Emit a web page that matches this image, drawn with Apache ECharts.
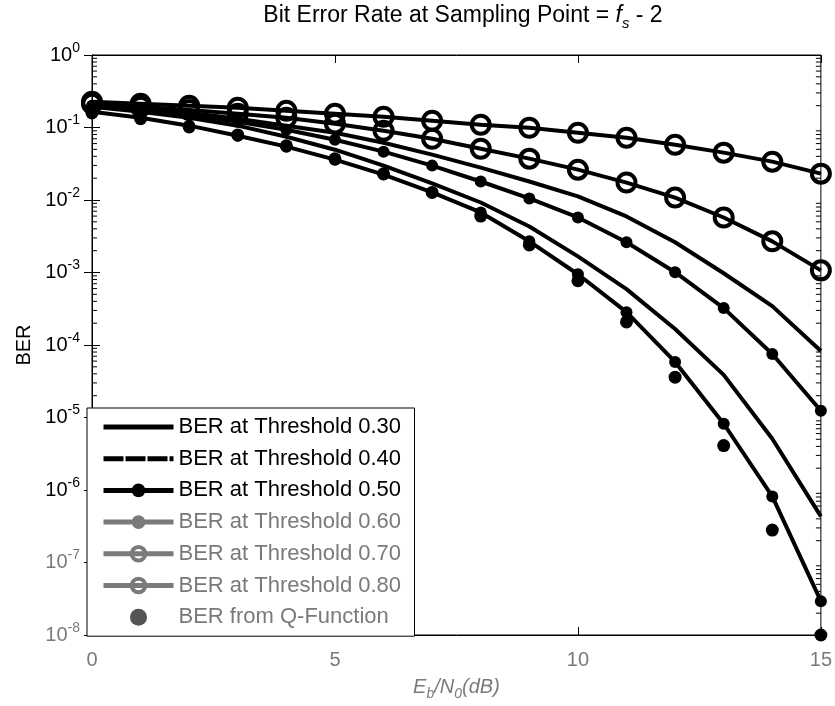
<!DOCTYPE html>
<html>
<head>
<meta charset="utf-8">
<script src="https://cdn.jsdelivr.net/npm/echarts@6/dist/echarts.min.js"></script>
<style>
  html, body { margin: 0; padding: 0; background: #fff; }
  #chart { width: 835px; height: 706px; }
</style>
</head>
<body>
<div id="chart"></div>
<script>
// Eb/N0 in dB
const ebn0 = [0, 1, 2, 3, 4, 5, 6, 7, 8, 9, 10, 11, 12, 13, 14, 15];

// Simulated bit error rate for each decision threshold
const berTh030 = [0.205, 0.187, 0.160, 0.132, 0.106, 0.0847, 0.0617, 0.0422, 0.0280, 0.0180, 0.0112, 0.00593, 0.00261, 0.000977, 0.000344, 0.0000828];
const berTh040 = [0.193, 0.165, 0.136, 0.106, 0.0746, 0.0494, 0.0298, 0.0169, 0.00924, 0.00432, 0.00167, 0.000589, 0.000166, 0.0000387, 0.0000051, 4.32e-7];
const berTh050 = [0.165, 0.136, 0.106, 0.0770, 0.0544, 0.0360, 0.0224, 0.0127, 0.00673, 0.00269, 0.000946, 0.000284, 0.0000584, 0.0000082, 8.15e-7, 2.93e-8];
const berTh060 = [0.199, 0.175, 0.150, 0.120, 0.0931, 0.0679, 0.0464, 0.0298, 0.0180, 0.0105, 0.00574, 0.00261, 0.00101, 0.000323, 0.0000752, 0.0000124];
const berTh070 = [0.212, 0.193, 0.175, 0.155, 0.136, 0.113, 0.0902, 0.0700, 0.0510, 0.0372, 0.0262, 0.0174, 0.0108, 0.00574, 0.00269, 0.00107];
const berTh080 = [0.226, 0.212, 0.199, 0.187, 0.170, 0.155, 0.141, 0.124, 0.109, 0.0993, 0.0847, 0.0723, 0.0579, 0.0450, 0.0338, 0.0231];

// Theoretical BER from the Q-function
const berQ = [0.159, 0.132, 0.102, 0.079, 0.056, 0.037, 0.023, 0.0127, 0.0060, 0.0024, 0.00077, 0.000208, 0.000036, 0.0000041, 2.8e-7, 1.0e-8];

// Legend labels
const seriesNames = [
  'BER at Threshold 0.30',
  'BER at Threshold 0.40',
  'BER at Threshold 0.50',
  'BER at Threshold 0.60',
  'BER at Threshold 0.70',
  'BER at Threshold 0.80',
  'BER from Q-Function'
];

// Axis ranges
const xTicks = [0, 5, 10, 15];
const yMin = 1e-8;
const yMax = 1;

const FONT = '"Liberation Sans", Arial, Helvetica, sans-serif';
const GREY = '#7a7a7a';
const CLEAR = 'rgba(0,0,0,0)';

function pairs(ys) {
  return ebn0.map((x, i) => [x, ys[i]]);
}

// Minor tick positions (2..9 x 10^n) for the log axis
const minorTicks = [];
for (let e = Math.log10(yMin); e < Math.log10(yMax); e++) {
  for (let k = 2; k <= 9; k++) minorTicks.push([0, k * Math.pow(10, e)]);
}

const plainLine = (name, ys) => ({
  type: 'line', name, data: pairs(ys),
  symbol: 'none', clip: false,
  lineStyle: { color: '#000', width: 4 },
  itemStyle: { color: '#000' },
  emphasis: { disabled: true }, z: 3
});
const dotLine = (name, ys) => ({
  type: 'line', name, data: pairs(ys),
  symbol: 'circle', symbolSize: 12, showAllSymbol: true, clip: false,
  lineStyle: { color: '#000', width: 4 },
  itemStyle: { color: '#000' },
  emphasis: { disabled: true }, z: 4
});
const ringLine = (name, ys) => ({
  type: 'line', name, data: pairs(ys),
  symbol: 'circle', symbolSize: 18, showAllSymbol: true, clip: false,
  lineStyle: { color: '#000', width: 4 },
  itemStyle: { color: CLEAR, borderColor: '#000', borderWidth: 4 },
  emphasis: { disabled: true }, z: 4
});

const option = {
  animation: false,
  backgroundColor: '#fff',
  textStyle: { fontFamily: FONT },
  title: {
    text: 'Bit Error Rate at Sampling Point = {i|f}{sub|s} - 2',
    left: 458, top: -4, textAlign: 'center',
    textStyle: {
      fontFamily: FONT, fontSize: 23, fontWeight: 'normal', color: '#000', lineHeight: 30,
      rich: {
        i: { fontFamily: FONT, fontSize: 23, fontStyle: 'italic', color: '#000', lineHeight: 30 },
        sub: { fontFamily: FONT, fontSize: 15, fontStyle: 'italic', color: '#000', lineHeight: 16, verticalAlign: 'bottom' }
      }
    }
  },
  grid: { left: 92, top: 55, right: 13, bottom: 69, show: true, borderColor: '#000', borderWidth: 1, backgroundColor: '#fff' },
  legend: {
    orient: 'vertical', left: 87, top: 408,
    backgroundColor: '#fff', borderColor: '#000', borderWidth: 1,
    padding: [7, 8, 7, 14],
    itemWidth: 70, itemHeight: 17, itemGap: 7.7,
    selectedMode: false,
    textStyle: { fontFamily: FONT, fontSize: 22, color: '#000', lineHeight: 24, width: 228 },
    data: [
      { name: seriesNames[0], itemStyle: { color: CLEAR, borderWidth: 0 }, lineStyle: { width: 5 } },
      { name: seriesNames[1], itemStyle: { color: CLEAR, borderWidth: 0 }, lineStyle: { width: 5, type: [20, 2] } },
      { name: seriesNames[2], lineStyle: { width: 5 } },
      { name: seriesNames[3], itemStyle: { color: GREY }, lineStyle: { color: GREY, width: 5 }, textStyle: { color: GREY } },
      { name: seriesNames[4], itemStyle: { color: CLEAR, borderColor: GREY, borderWidth: 4 }, lineStyle: { color: GREY, width: 5 }, textStyle: { color: GREY } },
      { name: seriesNames[5], itemStyle: { color: CLEAR, borderColor: GREY, borderWidth: 4 }, lineStyle: { color: GREY, width: 5 }, textStyle: { color: GREY } },
      { name: seriesNames[6], itemStyle: { color: '#555' }, textStyle: { color: GREY } }
    ]
  },
  xAxis: [
    {
      type: 'value', min: 0, max: 15, interval: 5,
      name: '{i|E}{sub|b}{i|/N}{sub|0}{i|(dB)}',
      nameLocation: 'middle', nameGap: 38,
      nameTextStyle: {
        rich: {
          i: { fontFamily: FONT, fontSize: 20, fontStyle: 'italic', color: GREY, lineHeight: 28 },
          sub: { fontFamily: FONT, fontSize: 14, fontStyle: 'italic', color: GREY, lineHeight: 14, verticalAlign: 'bottom' }
        }
      },
      axisLine: { show: true, lineStyle: { color: '#000', width: 1 } },
      axisTick: { show: true, inside: true, length: 8, lineStyle: { color: '#000' } },
      axisLabel: {
        fontFamily: FONT, fontSize: 20, margin: 15,
        color: (v) => (v === 15 ? '#000' : GREY),
        formatter: (v) => String(v)
      },
      splitLine: { show: false }
    },
    {
      type: 'value', min: 0, max: 15, interval: 5, position: 'top',
      axisLine: { show: true, lineStyle: { color: '#000' } },
      axisTick: { show: true, inside: true, length: 8, lineStyle: { color: '#000' } },
      axisLabel: { show: false },
      splitLine: { show: false }
    }
  ],
  yAxis: [
    {
      type: 'log', logBase: 10, min: yMin, max: yMax, splitNumber: 8,
      name: 'BER', nameLocation: 'middle', nameGap: 50, nameRotate: 90,
      nameTextStyle: { fontFamily: FONT, fontSize: 20, color: '#000' },
      axisLine: { show: true, lineStyle: { color: '#000' } },
      axisTick: { show: true, inside: true, length: 8, lineStyle: { color: '#000' } },
      axisLabel: {
        margin: 12,
        formatter: (v) => '{b|10}{s|' + Math.round(Math.log10(v)) + '}',
        color: (v) => (Math.round(Math.log10(v)) <= -7 ? GREY : '#000'),
        rich: {
          b: { fontFamily: FONT, fontSize: 20, lineHeight: 28 },
          s: { fontFamily: FONT, fontSize: 14, lineHeight: 14, verticalAlign: 'top' }
        }
      },
      splitLine: { show: false }
    },
    {
      type: 'log', logBase: 10, min: yMin, max: yMax, splitNumber: 8, position: 'right',
      axisLine: { show: true, lineStyle: { color: '#000' } },
      axisTick: { show: true, inside: true, length: 8, lineStyle: { color: '#000' } },
      axisLabel: { show: false },
      splitLine: { show: false }
    }
  ],
  series: [
    {
      type: 'custom', name: 'minor-ticks', silent: true, z: 1,
      xAxisIndex: 0, yAxisIndex: 0,
      data: minorTicks,
      encode: { x: 0, y: 1 },
      renderItem: (params, api) => {
        const p = api.coord([0, api.value(1)]);
        const cs = params.coordSys;
        const st = { stroke: '#000', lineWidth: 1 };
        return {
          type: 'group',
          children: [
            { type: 'line', shape: { x1: cs.x, y1: p[1], x2: cs.x + 5, y2: p[1] }, style: st },
            { type: 'line', shape: { x1: cs.x + cs.width, y1: p[1], x2: cs.x + cs.width - 5, y2: p[1] }, style: st }
          ]
        };
      }
    },
    plainLine(seriesNames[0], berTh030),
    plainLine(seriesNames[1], berTh040),
    dotLine(seriesNames[2], berTh050),
    dotLine(seriesNames[3], berTh060),
    ringLine(seriesNames[4], berTh070),
    ringLine(seriesNames[5], berTh080),
    {
      type: 'scatter', name: seriesNames[6], data: pairs(berQ),
      symbol: 'circle', symbolSize: 13, clip: false,
      itemStyle: { color: '#000', opacity: 1 },
      emphasis: { disabled: true }, z: 6
    }
  ]
};

const chart = echarts.init(document.getElementById('chart'), null, { renderer: 'canvas' });
chart.setOption(option);
</script>
</body>
</html>
